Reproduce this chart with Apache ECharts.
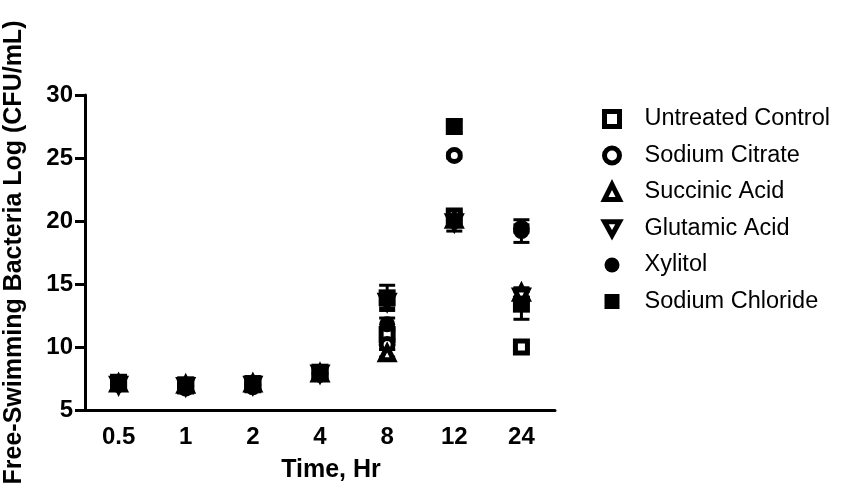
<!DOCTYPE html>
<html><head><meta charset="utf-8">
<script src="https://cdn.jsdelivr.net/npm/echarts@6/dist/echarts.min.js"></script>
<style>html,body{margin:0;padding:0;background:#fff}#c{width:845px;height:493px}</style>
</head><body><div id="c"></div>
<script>
var categories = ['0.5','1','2','4','8','12','24'];
var untreated = [7.1, 6.9, 7.0, 7.9, 11.0, 20.4, 10.0];
var citrate   = [7.1, 6.9, 7.0, 7.9, 10.2, 25.2, 19.4];
var succinic  = [7.1, 7.0, 7.1, 7.9, 9.5, 20.1, 14.3];
var glutamic  = [7.0, 6.9, 7.0, 7.9, 13.6, 19.9, 14.0];
var xylitol   = [7.0, 6.7, 6.8, 7.8, 11.8, 20.0, 19.2];
var chloride  = [7.2, 7.0, 7.1, 8.0, 13.9, 27.5, 13.4];
var untreatedErr = [0.1, 0.1, 0.1, 0.1, 0.4, 0.3, 0.2];
var citrateErr   = [0.1, 0.1, 0.1, 0.1, 0.4, 0.2, 0.3];
var succinicErr  = [0.1, 0.1, 0.1, 0.1, 0.3, 0.3, 0.4];
var glutamicErr  = [0.1, 0.1, 0.1, 0.1, 0.5, 0.7, 0.4];
var xylitolErr   = [0.1, 0.1, 0.1, 0.1, 0.5, 0.4, 0.9];
var chlorideErr  = [0.1, 0.1, 0.1, 0.1, 1.0, 0.5, 1.2];
var names = ['Untreated Control','Sodium Citrate','Succinic Acid','Glutamic Acid','Xylitol','Sodium Chloride'];

var chart = echarts.init(document.getElementById('c'));
var FONT = 'Liberation Sans';
var INV_TRI = 'path://M0,0 L10,0 L5,9 Z';

function errSeries(name, vals, errs) {
  return {
    type: 'custom', name: name + ' SEM', z: 3,
    itemStyle: {color: '#000'},
    data: categories.map(function(c, i){ return [i, vals[i] - errs[i], vals[i] + errs[i]]; }),
    renderItem: function(params, api) {
      var lo = api.coord([api.value(0), api.value(1)]);
      var hi = api.coord([api.value(0), api.value(2)]);
      var hw = 8;
      var st = {stroke: '#000', lineWidth: 3};
      return {type: 'group', children: [
        {type: 'line', shape: {x1: lo[0], y1: lo[1], x2: hi[0], y2: hi[1]}, style: st},
        {type: 'line', shape: {x1: lo[0]-hw, y1: lo[1], x2: lo[0]+hw, y2: lo[1]}, style: st},
        {type: 'line', shape: {x1: hi[0]-hw, y1: hi[1], x2: hi[0]+hw, y2: hi[1]}, style: st}
      ]};
    }
  };
}
var OPEN = {color: '#fff', borderColor: '#000', borderWidth: 5, opacity: 1};
var FILLED = {color: '#000', borderColor: '#000', borderWidth: 0, opacity: 1};
function pts(name, vals, symbol, size, open) {
  return {
    type: 'scatter', name: name, z: 5, symbol: symbol, symbolSize: size,
    data: vals.map(function(v, i){ return [i, v]; }),
    itemStyle: open ? OPEN : FILLED,
    emphasis: {disabled: true}
  };
}

var option = {
  animation: false,
  backgroundColor: '#fff',
  grid: {left: 85, top: 95, width: 470, height: 315, outerBoundsMode: 'none', containLabel: false},
  legend: {
    orient: 'vertical', left: 597, top: 102, itemGap: 12.5, itemWidth: 15, itemHeight: 15,
    selectedMode: false,
    textStyle: {fontFamily: FONT, fontSize: 23.5, color: '#000', lineHeight: 24, padding: [0,0,0,20]},
    data: [
      {name: names[0], icon: 'rect', itemStyle: {color: '#fff', borderColor: '#000', borderWidth: 5}},
      {name: names[1], icon: 'circle', itemStyle: {color: '#fff', borderColor: '#000', borderWidth: 5}},
      {name: names[2], icon: 'triangle', itemStyle: {color: '#fff', borderColor: '#000', borderWidth: 5}},
      {name: names[3], icon: INV_TRI, itemStyle: {color: '#fff', borderColor: '#000', borderWidth: 5}},
      {name: names[4], icon: 'circle', itemWidth: 12, itemHeight: 12, itemStyle: {color: '#000', borderWidth: 0}},
      {name: names[5], icon: 'rect', itemStyle: {color: '#000', borderWidth: 0}}
    ]
  },
  xAxis: {
    type: 'category', data: categories,
    name: 'Time, Hr', nameLocation: 'middle', nameGap: 48,
    nameTextStyle: {fontFamily: FONT, fontWeight: 'bold', fontSize: 25, color: '#000', padding: [0,0,0,22]},
    axisLine: {lineStyle: {color: '#000', width: 3}},
    axisTick: {alignWithLabel: true, length: 10, lineStyle: {color: '#000', width: 3}},
    axisLabel: {fontFamily: FONT, fontWeight: 'bold', fontSize: 24, color: '#000', margin: 15},
    splitLine: {show: false}
  },
  yAxis: {
    type: 'value', min: 5, max: 30, interval: 5,
    name: 'Free-Swimming Bacteria Log (CFU/mL)', nameLocation: 'middle', nameGap: 58,
    nameTextStyle: {fontFamily: FONT, fontWeight: 'bold', fontSize: 25, color: '#000'},
    axisLine: {show: true, lineStyle: {color: '#000', width: 3}},
    axisTick: {show: true, length: 10, lineStyle: {color: '#000', width: 3}},
    axisLabel: {fontFamily: FONT, fontWeight: 'bold', fontSize: 24, color: '#000', margin: 12},
    splitLine: {show: false}
  },
  series: [
    errSeries(names[0], untreated, untreatedErr),
    errSeries(names[1], citrate, citrateErr),
    errSeries(names[2], succinic, succinicErr),
    errSeries(names[3], glutamic, glutamicErr),
    errSeries(names[4], xylitol, xylitolErr),
    errSeries(names[5], chloride, chlorideErr),
    pts(names[0], untreated, 'rect', 12, true),
    pts(names[1], citrate, 'circle', 12, true),
    pts(names[2], succinic, 'triangle', 13, true),
    pts(names[3], glutamic, INV_TRI, 13, true),
    pts(names[4], xylitol, 'circle', 16, false),
    pts(names[5], chloride, 'rect', 17, false)
  ]
};
chart.setOption(option);
</script></body></html>
